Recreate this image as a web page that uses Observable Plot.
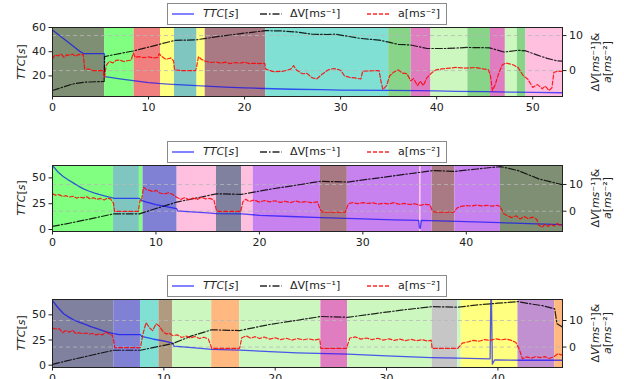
<!DOCTYPE html>
<html><head><meta charset="utf-8">
<script src="https://cdn.jsdelivr.net/npm/d3@7"></script>
<script src="https://cdn.jsdelivr.net/npm/@observablehq/plot@0.6"></script>
<style>
body{margin:0;background:#fff;}
#root{position:relative;width:624px;height:379px;overflow:hidden;font-family:"DejaVu Sans",sans-serif;color:#222;}
.panel{position:absolute;left:0;}
.legend{position:absolute;left:167px;width:278px;height:20px;border:1px solid #8a8a8a;background:#fff;font-size:11px;z-index:2;}
.legend svg{position:absolute;top:5px;}
.legend span{position:absolute;top:3px;white-space:nowrap;}
.ytitle{position:absolute;transform:translate(-50%,-50%) rotate(-90deg);white-space:nowrap;font-size:11px;line-height:12px;text-align:center;}
</style></head>
<body><div id="root"></div>
<script>
// ---------- data ----------
const phaseKeys = ["olive","lime","coral","yellow","teal","mauve","turq","green","magenta","pale","pink","slate","navy","violet","brown","orange","gray","purple"];
const phaseFill = ["#7f8f74","#80ff80","#f08080","#ffff80","#80c6c0","#a97a84","#80e0d3","#88d488","#e07dc0","#ccf8c0","#ffc0e0","#8080d4","#80809f","#c882f0","#b09a80","#ffb880","#c6c6c6","#c090d0"];

// panel 1
const p1Bounds = [0,5.45,8.5,11.25,12.7,15.05,15.9,22.2,35.0,37.35,39.4,43.25,45.6,47.15,48.4,49.3,53.1];
const p1Phases = ["olive","lime","coral","yellow","teal","yellow","mauve","turq","green","magenta","pale","green","magenta","pale","green","pink"];
const p1TtcT = [0,0.4,0.8,1.2,1.6,2.0,2.4,2.8,3.2,5.4,5.42,6,7,8,9,10,11,12,13,14,15,16,18,20,22,25,28,30,35,38,40,42,45,48,50,53.1];
const p1TtcV = [58,55.5,53,50.5,48,45.5,43,40.5,38.5,38.5,19.5,18.8,17.6,16.5,15.5,14.5,13.8,13.3,12.8,12.4,12,11.6,10.8,10.2,9.6,9,8.6,8.3,8,7.8,7.6,7.3,7,6.6,6.4,6.1];
const p1DvT = [0,1,2,3.3,5.38,5.42,6.5,8.4,10,11,12.7,15,16,18,20,22.2,24,25.5,27,28.5,29.5,30.5,32,34,35,36,37.3,39,41,43.2,45.5,47,48.5,49.3,50.5,51.5,52.5,53.1];
const p1DvV = [-5.7,-4.8,-3.9,-3.3,-3.1,4.0,4.6,5.6,6.7,7.4,8.6,8.8,9.2,10,10.7,11.4,11.3,11,10.4,10.3,10.4,9.9,9.2,8.7,8.1,7.5,7.3,6.3,6.3,6.6,6.5,5.3,5.8,5.6,4.4,3.5,2.8,2.7];
const p1AT = [0,0.3,0.6,0.9,1.2,1.5,1.8,2.1,2.4,2.7,3.0,3.2,3.35,3.8,4.2,5.3,5.4,5.6,5.9,6.3,6.6,7,7.4,7.8,8.2,8.4,8.6,9,9.5,10,10.5,11,11.1,11.4,11.8,12.3,12.6,12.7,13.5,14.9,15.0,15.2,15.5,16,16.5,17,17.5,18,18.5,19,19.5,20,20.5,21,21.5,22.1,22.2,23,24,24.8,25.1,25.4,26,26.5,27,27.5,28,28.7,29.3,30,30.4,31,31.5,32.1,32.3,33,34,34.2,34.4,34.8,35.1,35.5,36,36.4,36.9,37.3,37.6,38,38.3,38.6,39,39.5,40,41,42,43,44,45.4,45.6,45.8,46.1,46.4,46.8,47.2,48,48.5,49.0,49.5,50,50.5,51,51.3,51.7,52.0,52.2,52.6,53.1];
const p1AV = [3.4,4.5,4.2,4.8,3.8,4.5,4.4,4.7,4.1,4.6,4.5,4.6,0.5,0.4,0,0,-2,1.5,2.6,2.2,2.9,3.0,2.6,2.8,3.0,5.0,3.8,4.0,3.7,3.9,3.6,3.8,4.8,4.0,3.2,3.6,2.8,0.2,0,0,1.0,4.0,3.2,2.6,2.3,2.5,2.1,2.4,2.0,2.3,2.1,2.4,2.0,2.1,2.0,2.1,0.4,-0.3,-0.2,0.4,1.4,0.2,-0.9,-0.8,-2.0,-2.4,-1.2,0.2,0.6,0.1,-1.5,-2.0,-2.1,-2.4,-0.2,-0.1,0,-3,-5.4,-4.2,-1.5,-0.5,0.2,-0.7,-0.9,-2.9,-2.3,-4.3,-3.0,-4.3,-2.0,-0.6,0.3,0.6,0.9,0.7,0.9,0.2,-1.5,-5.7,-4.0,-1.3,1.5,2.2,1.6,0.8,-1.4,-2.5,-4.8,-4.0,-5.2,-4.4,-5.7,-4.9,-0.5,-0.2,-0.2];

// panel 2
const p2Bounds = [0,5.9,8.4,8.75,12.05,15.85,18.3,19.4,25.9,28.5,35.5,35.62,36.7,38.9,43.3,49.3];
const p2Phases = ["lime","teal","lime","slate","pink","navy","pink","violet","mauve","violet","pink","violet","mauve","violet","olive"];
const p2TtcT = [0,0.5,1,1.5,2,2.5,3,3.5,4,4.5,5,5.5,5.9,8.4,8.6,9,10,11,12,12.1,13,15,15.85,18.3,20,23,26,30,33,35.4,35.47,35.55,35.65,40,43.3,46,49.3];
const p2TtcV = [62,56,51.6,48.2,45.2,42.1,39.4,37.3,35.5,34,32.7,31.3,30.3,30.2,28.2,26.8,24.2,22.2,20.3,18,17.3,16.1,15.4,15.2,13.8,12.6,11.5,10.4,9.4,8.8,2,1,8.9,7.6,6.6,5.7,4.8];
const p2DvT = [0,2,4,5.9,8.4,10,12,14,15.85,18.3,21,24,25.9,28.5,31,33.5,35.6,36.7,38.9,41,43.3,45,47,49.3];
const p2DvV = [-5.7,-4.2,-2.6,-1.0,-1.0,1.0,3.4,5.0,6.5,6.3,8.2,10,11.2,10.9,12.2,13.5,14.6,15.2,14.9,15.8,16.7,15.2,12.1,9.9];
const p2AT = [0,0.3,0.6,1.0,1.3,1.6,2.0,2.3,2.6,3.0,3.3,3.6,4.0,4.3,4.6,5.0,5.3,5.6,5.9,6.0,8.3,8.45,8.6,8.8,9.1,9.4,9.7,10,10.4,10.8,11.2,11.6,12,12.4,12.8,13.2,13.6,14.0,14.4,14.8,15.2,15.6,15.85,16,18.2,18.4,18.7,19,19.5,20,20.5,21,21.5,22,22.5,23,23.5,24,24.5,25,25.6,25.9,26.1,28.3,28.6,29,29.5,30,30.5,31,31.5,32,32.5,33,33.5,34,34.5,35,35.5,36,36.5,36.7,37,38.8,39.1,39.5,40,40.5,41,41.5,42,42.5,43,43.3,43.6,44,44.4,44.8,45.2,45.6,46.0,46.4,46.8,47.0,47.3,47.6,47.9,48.2,48.5,48.8,49.1,49.3];
const p2AV = [6.5,6.0,6.2,5.5,5.8,5.3,5.6,4.9,5.2,5.0,5.4,4.7,5.0,4.4,4.8,4.2,4.9,4.6,3.0,-0.1,-0.1,4.0,3.8,9.0,8.0,7.8,7.3,7.8,6.8,6.4,6.9,6.3,5.2,4.4,5.1,4.3,4.9,4.4,5.2,4.6,4.8,4.2,0.2,-0.1,-0.1,3.5,4.5,3.6,4.2,3.4,4.0,3.5,3.9,3.3,3.7,3.2,3.8,3.3,3.6,3.2,3.5,0.5,-0.4,-0.4,2.8,3.2,2.8,3.2,2.9,3.1,2.6,3.0,2.7,3.2,2.6,2.9,2.5,2.8,2.2,2.6,2.3,0.2,-0.4,-0.4,1.2,1.8,2.1,1.9,2.3,2.0,2.2,1.9,2.2,1.6,-0.9,-1.8,-2.4,-1.7,-2.9,-2.0,-2.8,-2.2,-3.0,-5.2,-6.0,-5.0,-5.7,-4.8,-5.6,-4.6,-5.5,-5.0];

// panel 3
const p3Bounds = [0,5.5,7.9,9.56,10.8,14.3,16.8,24.1,26.5,34.1,36.4,36.7,41.8,45.1,45.8];
const p3Phases = ["navy","slate","turq","brown","pale","orange","pale","magenta","pale","gray","pale","yellow","purple","orange"];
const p3TtcT = [0,0.5,1,1.5,2,2.5,3,3.5,4,4.5,5,5.5,6,7.9,8.0,9,10,10.8,10.9,12,14.3,16.8,20,22,26.5,30,34,36.4,39.3,39.36,39.42,39.5,39.7,42,45.8];
const p3TtcV = [64,57,51,47.5,44.4,42.2,40.2,38.1,36.2,34.2,32.6,31.3,30.4,30.3,28.5,26,24,22,19,18,15.6,15.0,13.2,12.2,10.9,9.3,7.5,7,6.3,66,66,1,5.2,4.9,4.9];
const p3DvT = [0,2,4,5.5,7.9,9.5,10.8,12.5,14.3,16.8,19.5,22,24.1,26.5,29,31.5,34.1,36.4,38,40,41.8,43,44,45.1,45.3,45.8];
const p3DvV = [-6.5,-4.5,-2.6,-1.2,-1.2,0.2,1.3,4.2,6.5,6.2,8.5,10.1,11.5,11.2,12.6,14.0,15.2,15.0,15.8,16.5,17.1,16.2,15.6,14.4,8.8,7.5];
const p3AT = [0,0.3,0.6,0.9,1.2,1.5,1.8,2.1,2.4,2.7,3.0,3.3,3.6,3.9,4.2,4.5,4.8,5.1,5.4,5.6,7.9,8.1,8.4,8.7,9.0,9.3,9.6,9.9,10.2,10.5,10.8,11.2,11.6,12,12.4,12.8,13.2,13.6,14,14.3,16.8,17,17.4,17.8,18.2,18.6,19,19.5,20,20.5,21,21.5,22,22.5,23,23.5,24,24.1,26.4,26.7,27.2,27.7,28.2,28.7,29.2,29.7,30.2,30.7,31.2,31.7,32.2,32.7,33.2,33.7,34.0,34.1,36.4,36.8,37.3,37.8,38.3,38.8,39.3,39.8,40.3,40.8,41.2,41.6,41.9,42.2,42.6,43,43.4,43.8,44.2,44.6,45,45.4,45.8];
const p3AV = [7.1,6.8,6.9,5.4,6.2,5.6,6.3,5.1,5.4,5.0,5.3,4.9,5.1,4.6,4.9,4.6,5.7,4.8,4.4,-0.2,-0.2,4.5,9.2,7.3,6.2,8.8,7.8,6.0,4.9,5.2,4.3,4.6,3.6,4.1,3.4,4.0,3.2,3.7,3.0,-0.5,-0.5,3.5,4.2,3.3,3.9,3.2,3.8,3.0,3.5,2.8,3.3,2.6,3.2,2.7,3.1,2.6,3.0,-0.5,-0.5,3.4,3.8,3.0,3.4,2.8,3.3,2.6,3.1,2.5,3.0,2.4,2.9,2.4,2.8,2.2,2.6,-0.5,-0.5,1.5,1.9,2.5,2.2,2.8,2.5,3.1,2.7,3.0,2.5,1.8,-0.6,-4.4,-3.7,-4.2,-3.6,-4.0,-3.6,-4.3,-3.7,-2.5,-3.1];

// ---------- drawing ----------
const root = document.getElementById("root");
const zip = (t, v) => t.map((x, i) => ({t: x, v: v[i]}));
const spansOf = (b, k) => k.map((key, i) => ({s: b[i], e: b[i + 1], k: key}));

function panel(cfg) {
  const {top, bottom, xMax, xTicks, yDom, yTicks, rDom, rTicks, bounds, phases, ttc, dv, acc} = cfg;
  const mt = 10, mb = 26;
  const conv = v => yDom[0] + (v - rDom[0]) / (rDom[1] - rDom[0]) * (yDom[1] - yDom[0]);
  const inv = y => rDom[0] + (y - yDom[0]) / (yDom[1] - yDom[0]) * (rDom[1] - rDom[0]);
  const plot = Plot.plot({
    width: 624,
    height: mt + (bottom - top) + mb,
    marginTop: mt, marginBottom: mb, marginLeft: 52, marginRight: 62,
    style: {fontFamily: "DejaVu Sans, sans-serif", fontSize: "11px", color: "#222", background: "transparent"},
    x: {domain: [0, xMax]},
    y: {domain: yDom},
    color: {domain: phaseKeys, range: phaseFill},
    marks: [
      Plot.rect(spansOf(bounds, phases), {x1: "s", x2: "e", y1: () => yDom[0], y2: () => yDom[1], fill: "k"}),
      Plot.ruleY(rTicks.map(conv), {stroke: "#b8b8b8", strokeDasharray: "4,3", strokeWidth: 0.8}),
      Plot.line(zip(ttc[0], ttc[1]), {x: "t", y: "v", stroke: "#0000ff", strokeOpacity: 0.65, strokeWidth: 1.3, clip: true}),
      Plot.line(zip(dv[0], dv[1]), {x: "t", y: d => conv(d.v), stroke: "#000", strokeOpacity: 0.85, strokeWidth: 1.2, strokeDasharray: "7,2,1.5,2", clip: true}),
      Plot.line(zip(acc[0], acc[1]), {x: "t", y: d => conv(d.v), stroke: "#ff0000", strokeOpacity: 0.85, strokeWidth: 1.2, strokeDasharray: "4,2", clip: true}),
      Plot.frame({stroke: "#222", strokeWidth: 1}),
      Plot.axisX(xTicks, {tickSize: 3.5, tickPadding: 3, label: null, stroke: "#222", fill: "#222"}),
      Plot.axisY(yTicks, {anchor: "left", tickSize: 3.5, tickPadding: 3, label: null, stroke: "#222", fill: "#222"}),
      Plot.axisY(rTicks.map(conv), {anchor: "right", tickSize: 3.5, tickPadding: 3, label: null, tickFormat: d => String(Math.round(inv(d))), stroke: "#222", fill: "#222"})
    ]
  });
  const wrap = document.createElement("div");
  wrap.className = "panel";
  wrap.style.top = (top - mt) + "px";
  wrap.appendChild(plot);
  root.appendChild(wrap);

  // legend
  const lg = document.createElement("div");
  lg.className = "legend";
  lg.style.top = (top - 24) + "px";
  lg.innerHTML =
    `<svg style="left:4px" width="22" height="10"><line x1="0" x2="22" y1="5" y2="5" stroke="#0000ff" stroke-opacity="0.65" stroke-width="1.5"/></svg>` +
    `<span style="left:35px"><i>TTC</i>[<i>s</i>]</span>` +
    `<svg style="left:92px" width="22" height="10"><line x1="0" x2="22" y1="5" y2="5" stroke="#000" stroke-opacity="0.85" stroke-width="1.3" stroke-dasharray="7,2,1.5,2"/></svg>` +
    `<span style="left:122px">ΔV[ms⁻¹]</span>` +
    `<svg style="left:199px" width="24" height="10"><line x1="0" x2="24" y1="5" y2="5" stroke="#ff0000" stroke-opacity="0.85" stroke-width="1.3" stroke-dasharray="4,2"/></svg>` +
    `<span style="left:230px">a[ms⁻²]</span>`;
  root.appendChild(lg);

  const mid = (top + bottom) / 2;
  const lt = document.createElement("div");
  lt.className = "ytitle";
  lt.style.left = "22px"; lt.style.top = mid + "px";
  lt.innerHTML = `<i>TTC</i>[<i>s</i>]`;
  root.appendChild(lt);
  const rt = document.createElement("div");
  rt.className = "ytitle";
  rt.style.left = "602px"; rt.style.top = mid + "px";
  rt.innerHTML = `Δ<i>V</i>[<i>ms</i>⁻¹]&amp;<br><i>a</i>[<i>ms</i>⁻²]`;
  root.appendChild(rt);
}

panel({top: 27, bottom: 96, xMax: 53.1, xTicks: [0,10,20,30,40,50], yDom: [3, 60], yTicks: [20,40,60],
  rDom: [-7.4, 12.3], rTicks: [0, 10], bounds: p1Bounds, phases: p1Phases,
  ttc: [p1TtcT, p1TtcV], dv: [p1DvT, p1DvV], acc: [p1AT, p1AV]});
panel({top: 165, bottom: 231, xMax: 49.3, xTicks: [0,10,20,30,40], yDom: [-1.9, 62], yTicks: [0,25,50],
  rDom: [-7.6, 17.1], rTicks: [0, 10], bounds: p2Bounds, phases: p2Phases,
  ttc: [p2TtcT, p2TtcV], dv: [p2DvT, p2DvV], acc: [p2AT, p2AV]});
panel({top: 299, bottom: 367, xMax: 45.8, xTicks: [0,10,20,30,40], yDom: [-2.3, 65.2], yTicks: [0,25,50],
  rDom: [-7.7, 17.9], rTicks: [0, 10], bounds: p3Bounds, phases: p3Phases,
  ttc: [p3TtcT, p3TtcV], dv: [p3DvT, p3DvV], acc: [p3AT, p3AV]});
</script></body></html>
